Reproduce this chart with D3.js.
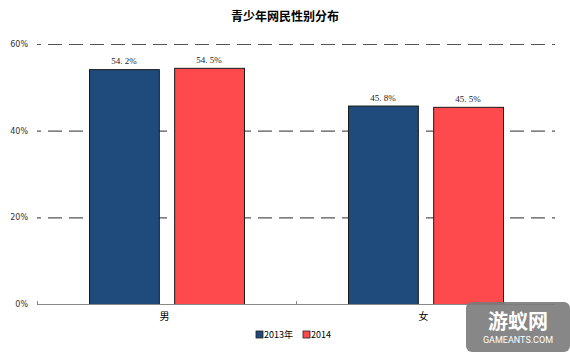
<!DOCTYPE html>
<html lang="zh">
<head>
<meta charset="UTF-8">
<title>青少年网民性别分布</title>
<script src="https://d3js.org/d3.v7.min.js"></script>
<style>
  body { margin: 0; background: #fff; }
  svg { display: block; }
</style>
</head>
<body>
<svg id="chart" width="570" height="352"></svg>
<script>
// data
const categories = ["男", "女"];
const seriesNames = ["2013年", "2014"];
const values2013 = [54.2, 45.8];
const values2014 = [54.5, 45.5];
const yTicks = [0, 20, 40, 60];
const colors = ["#1f4a7c", "#ff4a4d"];

const plotLeft = 37, plotRight = 555, plotTop = 44, plotBottom = 304;

const svg = d3.select("#chart");

// title
svg.append("text")
  .attr("x", 285).attr("y", 21)
  .attr("text-anchor", "middle")
  .attr("font-family", "'Noto Sans CJK SC', sans-serif")
  .attr("font-size", 12).attr("font-weight", "bold")
  .text("青少年网民性别分布");

const y = d3.scaleLinear().domain([0, 60]).range([plotBottom, plotTop]);
const x0 = d3.scaleBand().domain(categories).range([plotLeft, plotRight]);
const x1 = d3.scaleBand().domain(seriesNames).range([52, 207]).paddingInner(0.18);

// gridlines
svg.append("g").selectAll("line")
  .data(yTicks.filter(d => d > 0))
  .join("line")
  .attr("x1", plotLeft).attr("x2", plotRight)
  .attr("y1", d => y(d) + 0.5).attr("y2", d => y(d) + 0.5)
  .attr("stroke", "#555").attr("stroke-width", 1.2)
  .attr("stroke-dasharray", "14,7")
  .attr("stroke-dashoffset", 10);

// y labels
svg.append("g").selectAll("text")
  .data(yTicks)
  .join("text")
  .attr("x", 28).attr("y", d => y(d) + 3)
  .attr("text-anchor", "end")
  .attr("font-family", "'DejaVu Sans', sans-serif")
  .attr("font-size", 8).attr("fill", "#333")
  .text(d => d + "%");

// bars
const rows = categories.map((c, i) => ({ cat: c, vals: [values2013[i], values2014[i]] }));
const groups = svg.append("g").selectAll("g")
  .data(rows)
  .join("g")
  .attr("transform", d => `translate(${x0(d.cat)},0)`);

groups.selectAll("rect")
  .data(d => d.vals.map((v, j) => ({ s: seriesNames[j], v, j })))
  .join("rect")
  .attr("x", d => x1(d.s) + 0.5)
  .attr("y", d => y(d.v) + 0.5)
  .attr("width", x1.bandwidth())
  .attr("height", d => plotBottom - y(d.v))
  .attr("fill", d => colors[d.j])
  .attr("stroke", "#1a1a1a").attr("stroke-width", 1);

groups.selectAll("text")
  .data(d => d.vals.map((v, j) => ({ s: seriesNames[j], v, j })))
  .join("text")
  .attr("x", d => x1(d.s) + x1.bandwidth() / 2)
  .attr("y", d => y(d.v) - 5)
  .attr("text-anchor", "middle")
  .attr("font-family", "'Liberation Serif', serif")
  .attr("font-size", 9).attr("fill", "#222")
  .text(d => d.v.toFixed(1).replace(".", ". ") + "%");

// x axis
svg.append("line")
  .attr("x1", plotLeft).attr("x2", plotRight)
  .attr("y1", plotBottom + 0.5).attr("y2", plotBottom + 0.5)
  .attr("stroke", "#888");
svg.append("line")
  .attr("x1", plotLeft + 0.5).attr("x2", plotLeft + 0.5)
  .attr("y1", plotBottom - 3).attr("y2", plotBottom)
  .attr("stroke", "#888");
svg.append("line")
  .attr("x1", x0(categories[1]) + 0.5).attr("x2", x0(categories[1]) + 0.5)
  .attr("y1", plotBottom - 3).attr("y2", plotBottom)
  .attr("stroke", "#888");

svg.append("g").selectAll("text")
  .data(categories)
  .join("text")
  .attr("x", d => x0(d) + x0.bandwidth() / 2 - 2)
  .attr("y", plotBottom + 16)
  .attr("text-anchor", "middle")
  .attr("font-family", "'Noto Sans CJK SC', sans-serif")
  .attr("font-size", 10)
  .text(d => d);

// legend
const legendX = [256, 303];
const legend = svg.append("g").selectAll("g")
  .data(seriesNames)
  .join("g")
  .attr("transform", (d, i) => `translate(${legendX[i]},331)`);
legend.append("rect")
  .attr("width", 7).attr("height", 7)
  .attr("fill", (d, i) => colors[i])
  .attr("stroke", "#222").attr("stroke-width", 0.8);
legend.append("text")
  .attr("x", 8).attr("y", 7)
  .attr("font-family", "'Noto Sans CJK SC', sans-serif")
  .attr("font-size", 9)
  .text(d => d);

// watermark
const wm = svg.append("g").attr("transform", "translate(466,302)");
wm.append("rect")
  .attr("width", 104).attr("height", 50).attr("rx", 6)
  .attr("fill", "#7a7a7a").attr("opacity", 0.9);
wm.append("text")
  .attr("x", 52).attr("y", 27)
  .attr("text-anchor", "middle")
  .attr("font-family", "'Noto Sans CJK SC', sans-serif")
  .attr("font-size", 20).attr("font-weight", "bold")
  .attr("fill", "#fff")
  .text("游蚁网");
wm.append("text")
  .attr("x", 52).attr("y", 41)
  .attr("text-anchor", "middle")
  .attr("font-family", "Roboto, sans-serif")
  .attr("font-size", 9)
  .attr("fill", "#fff")
  .text("GAMEANTS.COM");
</script>
</body>
</html>
